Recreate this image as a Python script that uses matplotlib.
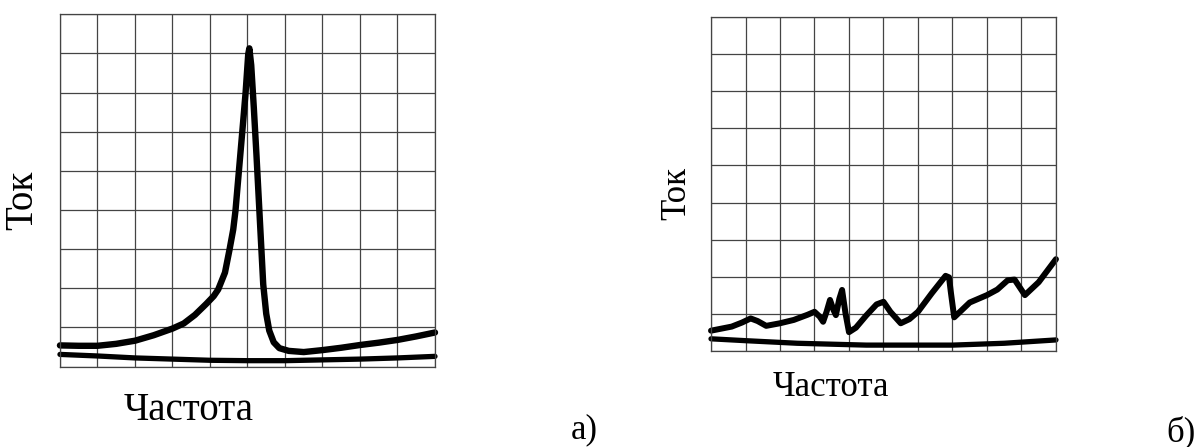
import numpy as np
import matplotlib
matplotlib.use('Agg')
from matplotlib import pyplot as plt

plt.rcParams['font.family'] = ['Liberation Serif', 'DejaVu Serif']

# panel a) resonance curve and baseline (grid units: 10 x 9)
xa_res = [0, 0.5, 1.0, 1.5, 2.0, 2.5, 3.0, 3.3, 3.6, 3.9, 4.1, 4.22, 4.4, 4.52,
          4.62, 4.68, 4.77, 4.86, 4.95, 5.02, 5.05, 5.1, 5.17, 5.24, 5.3, 5.36,
          5.42, 5.5, 5.58, 5.7, 5.85, 6.1, 6.5, 7, 7.5, 8, 8.5, 9, 9.5, 10]
ya_res = [0.54, 0.53, 0.53, 0.58, 0.66, 0.8, 0.97, 1.1, 1.32, 1.6, 1.8, 1.97, 2.4, 2.98,
          3.5, 3.98, 4.98, 5.98, 7.0, 7.98, 8.13, 7.7, 6.6, 5.4, 4.3, 3.2,
          2.1, 1.35, 0.92, 0.62, 0.47, 0.4, 0.37, 0.42, 0.48, 0.55, 0.61, 0.68, 0.77, 0.87]
xa_base = [0, 1, 2, 3, 4, 5, 6, 7, 8, 9, 10]
ya_base = [0.31, 0.27, 0.22, 0.19, 0.16, 0.15, 0.15, 0.17, 0.19, 0.22, 0.26]

# panel б) noisy curve and baseline
xb_sig = [0, 0.6, 0.9, 1.15, 1.35, 1.6, 2, 2.4, 2.8, 3.0, 3.15, 3.25, 3.35, 3.45,
          3.55, 3.62, 3.72, 3.8, 3.9, 4.0, 4.2, 4.5, 4.8, 5.0, 5.2, 5.5, 5.75,
          6, 6.4, 6.8, 6.9, 6.95, 7.05, 7.5, 8, 8.3, 8.6, 8.8, 9.1, 9.5, 10]
yb_sig = [0.54, 0.65, 0.76, 0.87, 0.8, 0.67, 0.74, 0.83, 0.97, 1.05, 0.92, 0.78, 1.05, 1.37,
          1.1, 0.96, 1.4, 1.64, 1.0, 0.5, 0.62, 0.95, 1.25, 1.32, 1.05, 0.74, 0.85,
          1.05, 1.55, 2.02, 1.98, 1.6, 0.9, 1.3, 1.5, 1.65, 1.9, 1.92, 1.5, 1.85, 2.47]
xb_base = [0, 1, 2.5, 4.5, 7, 8.5, 10]
yb_base = [0.32, 0.27, 0.2, 0.15, 0.15, 0.2, 0.29]

fig = plt.figure(figsize=(11.99, 4.47), dpi=100)

def setup(ax):
    ax.set_xlim(0, 10)
    ax.set_ylim(0, 9)
    ax.set_xticks(np.arange(0, 11, 1))
    ax.set_yticks(np.arange(0, 10, 1))
    ax.tick_params(length=0, labelbottom=False, labelleft=False)
    ax.grid(True, color='#444444', lw=0.9)
    for s in ax.spines.values():
        s.set_color('#444444')
        s.set_linewidth(0.9)

ax1 = fig.add_axes([0.05, 0.18, 0.3128, 0.788])
setup(ax1)
ax1.plot(xa_res, ya_res, color='black', lw=4.6, solid_capstyle='round', solid_joinstyle='round', clip_on=False)
ax1.plot(xa_base, ya_base, color='black', lw=3.8, solid_capstyle='round', clip_on=False)

ax2 = fig.add_axes([0.593, 0.2155, 0.2877, 0.7458])
setup(ax2)
ax2.plot(xb_sig, yb_sig, color='black', lw=4.3, solid_capstyle='round', solid_joinstyle='round', clip_on=False)
ax2.plot(xb_base, yb_base, color='black', lw=3.8, solid_capstyle='round', clip_on=False)

fig.text(23 / 1199, 1 - 200 / 447, 'Ток', rotation=90, fontsize=28, ha='center', va='center')
fig.text(189 / 1199, 1 - 410 / 447, 'Частота', fontsize=28, ha='center', va='center')
fig.text(677 / 1199, 1 - 194 / 447, 'Ток', rotation=90, fontsize=25, ha='center', va='center')
fig.text(831 / 1199, 1 - 388 / 447, 'Частота', fontsize=25, ha='center', va='center')
fig.text(584 / 1199, 1 - 430 / 447, 'а)', fontsize=25, ha='center', va='center')
fig.text(1181 / 1199, 1 - 432 / 447, 'б)', fontsize=25, ha='center', va='center')

fig.savefig('out.png', dpi=100)
